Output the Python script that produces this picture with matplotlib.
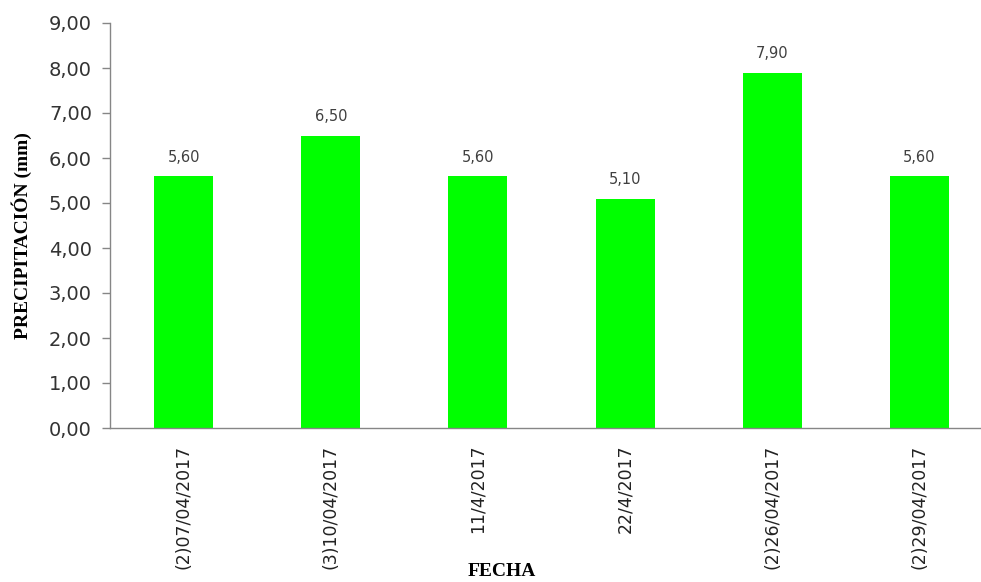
import numpy as np
import matplotlib.pyplot as plt

# Precipitation per date
fechas = ["(2)07/04/2017", "(3)10/04/2017", "11/4/2017",
          "22/4/2017", "(2)26/04/2017", "(2)29/04/2017"]
precip = [5.60, 6.50, 5.60, 5.10, 7.90, 5.60]
y_ticks = [0, 1, 2, 3, 4, 5, 6, 7, 8, 9]

fig = plt.figure(figsize=(9.81, 5.82), dpi=100)
ax = fig.add_axes([110/981, 154/582, 883/981, 405/582])

x = np.arange(len(fechas))
bars = ax.bar(x, precip, width=0.4, color="#00FF00")

for xi, v in zip(x, precip):
    ax.text(xi, v + 0.25, f"{v:.2f}".replace(".", ","), ha="center", va="bottom",
            fontsize=10.5, color="#404040")

ax.set_xlim(-0.5, len(fechas) - 0.5)
ax.set_ylim(0, 9)
ax.set_yticks(y_ticks)
ax.set_yticklabels([f"{t:.2f}".replace(".", ",") for t in y_ticks],
                   fontsize=14, color="#333333")
ax.set_xticks(x)
ax.set_xticklabels(fechas, rotation=90, fontsize=12.5, color="#222222")
ax.tick_params(axis="x", length=0, pad=12)
ax.tick_params(axis="y", length=6, width=1, color="#868686", pad=7)

for side in ["top", "right"]:
    ax.spines[side].set_visible(False)
for side in ["left", "bottom"]:
    ax.spines[side].set_color("#868686")
    ax.spines[side].set_linewidth(1)

fig.text(22/981, 1 - 236/582, "PRECIPITACIÓN (mm)", rotation=90, ha="center",
         va="center", fontsize=14, fontweight="bold", family="Liberation Serif")
fig.text(502/981, 1 - 572/582, "FECHA", ha="center", va="center",
         fontsize=14, fontweight="bold", family="Liberation Serif")

fig.savefig("out.png", dpi=100)
